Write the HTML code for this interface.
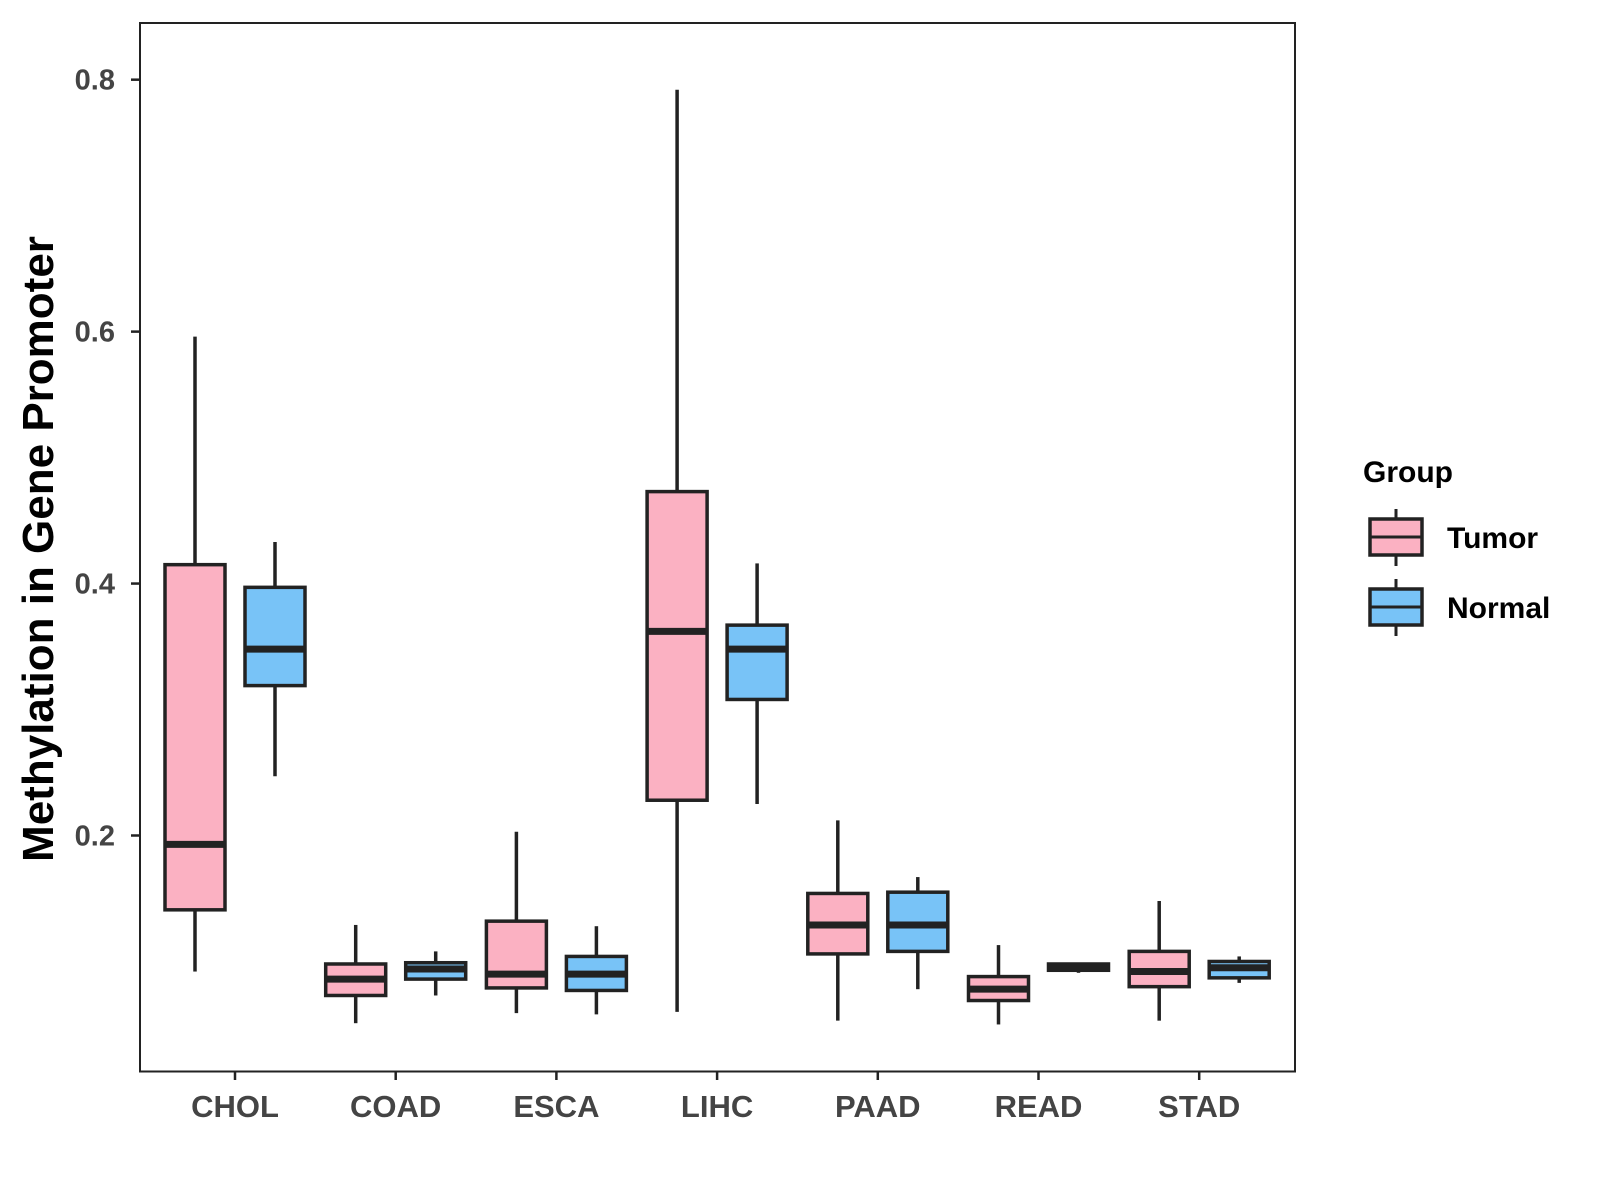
<!DOCTYPE html>
<html><head><meta charset="utf-8"><style>
html,body{margin:0;padding:0;background:#fff;}
svg{display:block;font-family:"Liberation Sans",Arial,sans-serif;font-weight:bold;}
</style></head><body>
<svg id="chart" width="1600" height="1200" viewBox="0 0 1600 1200">
<rect x="140" y="23" width="1155" height="1048.5" fill="#fff" stroke="#222" stroke-width="2"/>
<g id="yaxis"></g>
<g id="xaxis"></g>
<g id="boxes"></g>
<text transform="translate(53,549) rotate(-90)" text-anchor="middle" font-size="44" fill="#000">Methylation in Gene Promoter</text>
<g>
<text x="1363" y="482" font-size="30" fill="#000">Group</text>
<g id="legend"></g>
</g>
</svg>
<script>
const categories = ["CHOL","COAD","ESCA","LIHC","PAAD","READ","STAD"];
const groups = ["Tumor","Normal"];
const colors = ["#FBB1C2","#78C3F7"];
// [low, q1, median, q3, high]
const tumorStats = [
  [0.092,0.141,0.193,0.415,0.596],
  [0.051,0.073,0.086,0.098,0.129],
  [0.059,0.079,0.090,0.132,0.203],
  [0.060,0.228,0.362,0.473,0.792],
  [0.053,0.106,0.129,0.154,0.212],
  [0.050,0.069,0.078,0.088,0.113],
  [0.053,0.080,0.092,0.108,0.148]
];
const normalStats = [
  [0.247,0.319,0.348,0.397,0.433],
  [0.073,0.086,0.094,0.099,0.108],
  [0.058,0.077,0.090,0.104,0.128],
  [0.225,0.308,0.348,0.367,0.416],
  [0.078,0.108,0.129,0.155,0.167],
  [0.091,0.093,0.095,0.098,0.098],
  [0.083,0.087,0.095,0.100,0.104]
];
const yTicks = [0.2,0.4,0.6,0.8];
const yTickLabels = ["0.2","0.4","0.6","0.8"];

const NS="http://www.w3.org/2000/svg";
function el(t,a,p){const e=document.createElementNS(NS,t);for(const k in a)e.setAttribute(k,a[k]);p.appendChild(e);return e;}
const y = v => 835.5 - (v-0.2)*1259.7;
const x = i => 235 + i*160.7;
const yax=document.getElementById('yaxis'), xax=document.getElementById('xaxis'), bx=document.getElementById('boxes'), lg=document.getElementById('legend');
yTicks.forEach((t,i)=>{
  const l=el('line',{x1:131,x2:140,y1:y(t),y2:y(t),stroke:'#222','stroke-width':2.5},yax);
  
  
  const tx=el('text',{x:115,y:y(t)+10,'text-anchor':'end','font-size':29,fill:'#444'},yax);
  tx.textContent=yTickLabels[i];
  
  
});
categories.forEach((c,i)=>{
  const l=el('line',{x1:x(i),x2:x(i),y1:1071.5,y2:1080,stroke:'#222','stroke-width':2.5},xax);
  
  
  const tx=el('text',{x:x(i),y:1117,'text-anchor':'middle','font-size':31,fill:'#444'},xax);
  tx.textContent=c;
  
  
});
const bw=60, off=40;
function drawBox(cx,s,col,parent,name){
  const g=el('g',{},parent);
  
  
  el('line',{x1:cx,x2:cx,y1:y(s[4]),y2:y(s[3]),stroke:'#222','stroke-width':3.5},g);
  el('line',{x1:cx,x2:cx,y1:y(s[1]),y2:y(s[0]),stroke:'#222','stroke-width':3.5},g);
  el('rect',{x:cx-bw/2,y:y(s[3]),width:bw,height:Math.max(1,y(s[1])-y(s[3])),fill:col,stroke:'#222','stroke-width':3.5},g);
  el('line',{x1:cx-bw/2,x2:cx+bw/2,y1:y(s[2]),y2:y(s[2]),stroke:'#222','stroke-width':7},g);
}
categories.forEach((c,i)=>{
  drawBox(x(i)-off,tumorStats[i],colors[0],bx,'box-'+c.toLowerCase()+'-tumor');
  drawBox(x(i)+off,normalStats[i],colors[1],bx,'box-'+c.toLowerCase()+'-normal');
});
groups.forEach((gname,i)=>{
  const top=519+i*70, g=el('g',{},lg);
  
  
  el('line',{x1:1396,x2:1396,y1:top-10,y2:top+47,stroke:'#222','stroke-width':3},g);
  el('rect',{x:1370,y:top,width:52,height:36,fill:colors[i],stroke:'#222','stroke-width':3.5},g);
  el('line',{x1:1370,x2:1422,y1:top+18,y2:top+18,stroke:'#222','stroke-width':3},g);
  const t=el('text',{x:1447,y:top+29,'font-size':30,fill:'#000'},g);
  t.textContent=gname;
});
</script>
</body></html>
